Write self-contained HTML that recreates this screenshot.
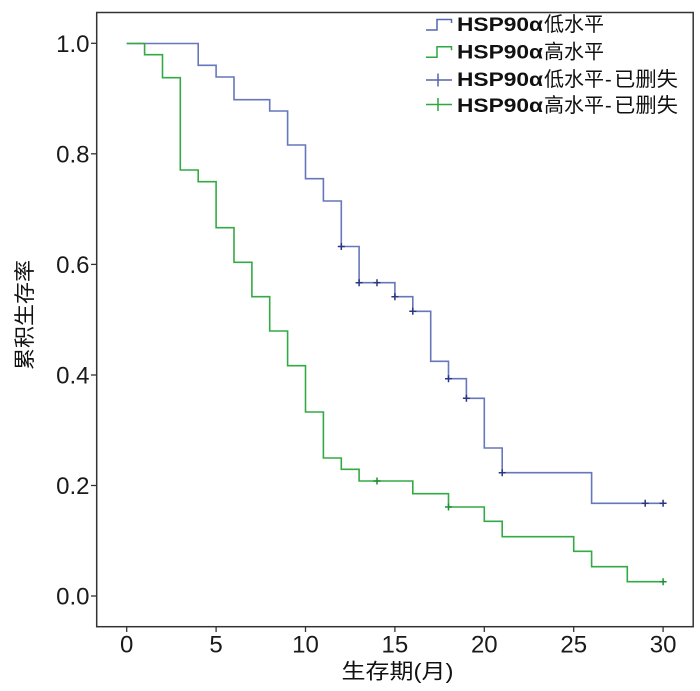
<!DOCTYPE html>
<html>
<head>
<meta charset="utf-8">
<style>
  html, body { margin: 0; padding: 0; background: #ffffff; }
  svg { display: block; }
  .tick { font-family: "Liberation Sans", "DejaVu Sans", sans-serif; font-size: 24px; fill: #1a1a1a; }
  .lat { font-family: "Liberation Sans", "DejaVu Sans", sans-serif; font-weight: bold; font-size: 19px; fill: #111; }
  .cjk { font-family: "Liberation Sans", "Noto Sans CJK SC", "WenQuanYi Zen Hei", sans-serif; font-size: 20px; fill: #111; }
  .title { font-family: "Liberation Sans", "Noto Sans CJK SC", "WenQuanYi Zen Hei", sans-serif; font-size: 21px; fill: #111; }
</style>
</head>
<body>
<svg width="700" height="691" viewBox="0 0 700 691" xmlns="http://www.w3.org/2000/svg">
  <rect x="0" y="0" width="700" height="691" fill="#ffffff"/>

  <!-- Plot frame -->
  <rect x="96.7" y="12.5" width="596.5" height="614.2" fill="none" stroke="#333333" stroke-width="1.5"/>

  <!-- Y ticks -->
  <g stroke="#333333" stroke-width="1.3">
    <line x1="91" y1="43.3" x2="96.7" y2="43.3"/>
    <line x1="91" y1="153.8" x2="96.7" y2="153.8"/>
    <line x1="91" y1="264.4" x2="96.7" y2="264.4"/>
    <line x1="91" y1="375" x2="96.7" y2="375"/>
    <line x1="91" y1="485.5" x2="96.7" y2="485.5"/>
    <line x1="91" y1="596" x2="96.7" y2="596"/>
  </g>
  <g class="tick" text-anchor="end">
    <text x="89.5" y="52">1.0</text>
    <text x="89.5" y="162.5">0.8</text>
    <text x="89.5" y="273.1">0.6</text>
    <text x="89.5" y="383.7">0.4</text>
    <text x="89.5" y="494.2">0.2</text>
    <text x="89.5" y="604.7">0.0</text>
  </g>

  <!-- X ticks -->
  <g stroke="#333333" stroke-width="1.3">
    <line x1="126.7" y1="626.7" x2="126.7" y2="632"/>
    <line x1="216.1" y1="626.7" x2="216.1" y2="632"/>
    <line x1="305.5" y1="626.7" x2="305.5" y2="632"/>
    <line x1="394.9" y1="626.7" x2="394.9" y2="632"/>
    <line x1="484.3" y1="626.7" x2="484.3" y2="632"/>
    <line x1="573.7" y1="626.7" x2="573.7" y2="632"/>
    <line x1="663.1" y1="626.7" x2="663.1" y2="632"/>
  </g>
  <g class="tick" text-anchor="middle">
    <text x="126.7" y="652.3">0</text>
    <text x="216.1" y="652.3">5</text>
    <text x="305.5" y="652.3">10</text>
    <text x="394.9" y="652.3">15</text>
    <text x="484.3" y="652.3">20</text>
    <text x="573.7" y="652.3">25</text>
    <text x="663.1" y="652.3">30</text>
  </g>

  <!-- Axis titles -->
  <text class="title" x="397.5" y="678.5" text-anchor="middle" textLength="112" lengthAdjust="spacingAndGlyphs">生存期(月)</text>
  <text class="title" transform="translate(32,315) rotate(-90)" x="0" y="0" text-anchor="middle" font-size="22" textLength="110" lengthAdjust="spacingAndGlyphs">累积生存率</text>

  <!-- Blue curve (low) -->
  <path d="M126.7,43.5 H198.2 V65.3 H216.1 V77 H234 V99.7 H269.7 V111 H287.6 V145 H305.5 V178.7 H323.4 V201 H341.3 V246.5 H359.1 V282.7 H394.9 V296.7 H412.8 V311.3 H430.7 V361.3 H448.5 V378.7 H466.4 V398.3 H484.3 V448 H502.2 V472.7 H591.6 V503.3 H663.1"
        fill="none" stroke="#6677bb" stroke-width="1.6"/>

  <!-- Green curve (high) -->
  <path d="M126.7,43.5 H144.6 V54.7 H162.5 V77.7 H180.3 V170 H198.2 V181.7 H216.1 V227.7 H234 V262.3 H251.9 V296.7 H269.7 V331 H287.6 V365.7 H305.5 V412 H323.4 V458 H341.3 V469.3 H359.1 V481 H412.8 V493.7 H448.5 V507 H484.3 V521.3 H502.2 V536.7 H573.7 V551.3 H591.6 V566.7 H627.3 V581.7 H663.1"
        fill="none" stroke="#33aa44" stroke-width="1.6"/>

  <!-- Blue censor marks -->
  <g stroke="#2a3580" stroke-width="1.5">
    <path d="M337.8,246.5 H344.8 M341.3,243 V250"/>
    <path d="M355.6,282.7 H362.6 M359.1,279.2 V286.2"/>
    <path d="M373.5,282.7 H380.5 M377,279.2 V286.2"/>
    <path d="M391.4,296.7 H398.4 M394.9,293.2 V300.2"/>
    <path d="M409.3,311.3 H416.3 M412.8,307.8 V314.8"/>
    <path d="M445,378.7 H452 M448.5,375.2 V382.2"/>
    <path d="M462.9,398.3 H469.9 M466.4,394.8 V401.8"/>
    <path d="M498.7,472.7 H505.7 M502.2,469.2 V476.2"/>
    <path d="M641.7,503.3 H648.7 M645.2,499.8 V506.8"/>
    <path d="M659.6,503.3 H666.6 M663.1,499.8 V506.8"/>
  </g>

  <!-- Green censor marks -->
  <g stroke="#1e8f33" stroke-width="1.5">
    <path d="M373.5,481 H380.5 M377,477.5 V484.5"/>
    <path d="M445,507 H452 M448.5,503.5 V510.5"/>
    <path d="M659.6,581.7 H666.6 M663.1,578.2 V585.2"/>
  </g>

  <!-- Legend icons -->
  <path d="M426,30 H437 V19.5 H451.5 V23" fill="none" stroke="#5566b0" stroke-width="1.5"/>
  <path d="M426,57.3 H437 V46.8 H451.5 V50.3" fill="none" stroke="#2ea641" stroke-width="1.5"/>
  <path d="M426,80 H452 M438,73.5 V86.5" fill="none" stroke="#5566b0" stroke-width="1.5"/>
  <path d="M426,104.5 H452 M438,98 V111" fill="none" stroke="#2ea641" stroke-width="1.5"/>

  <!-- Legend text -->
  <text class="lat" x="457" y="31" textLength="86" lengthAdjust="spacingAndGlyphs">HSP90α</text>
  <text class="cjk" x="544" y="31" textLength="60" lengthAdjust="spacingAndGlyphs">低水平</text>

  <text class="lat" x="457" y="58.3" textLength="86" lengthAdjust="spacingAndGlyphs">HSP90α</text>
  <text class="cjk" x="544" y="58.3" textLength="60" lengthAdjust="spacingAndGlyphs">高水平</text>

  <text class="lat" x="457" y="86" textLength="86" lengthAdjust="spacingAndGlyphs">HSP90α</text>
  <text class="cjk" x="544" y="86" textLength="60" lengthAdjust="spacingAndGlyphs">低水平</text>
  <text class="cjk" x="605" y="86">-</text>
  <text class="cjk" x="614" y="86" textLength="64" lengthAdjust="spacingAndGlyphs">已删失</text>

  <text class="lat" x="457" y="112" textLength="86" lengthAdjust="spacingAndGlyphs">HSP90α</text>
  <text class="cjk" x="544" y="112" textLength="60" lengthAdjust="spacingAndGlyphs">高水平</text>
  <text class="cjk" x="605" y="112">-</text>
  <text class="cjk" x="614" y="112" textLength="64" lengthAdjust="spacingAndGlyphs">已删失</text>
</svg>
</body>
</html>
